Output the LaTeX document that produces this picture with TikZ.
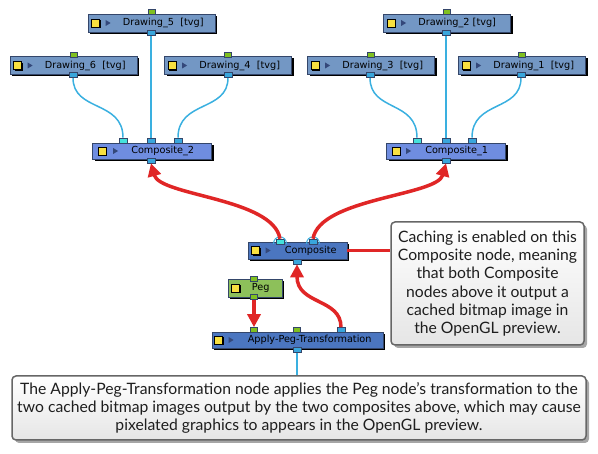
\documentclass[tikz,border=0pt]{standalone}
\usepackage{fontspec}
\setmainfont{Lato}
\newfontfamily\nodefont{DejaVu Sans}
\usetikzlibrary{shapes.geometric,shadows,arrows.meta}
\definecolor{nborder}{HTML}{34466A}
\definecolor{cdraw}{HTML}{7397C4}
\definecolor{ccompb}{HTML}{6F8DE0}
\definecolor{ccomp}{HTML}{4B76C0}
\definecolor{cpeg}{HTML}{8DC05A}
\definecolor{cyel}{HTML}{F8E040}
\definecolor{ctri}{HTML}{34487A}
\definecolor{pblue}{HTML}{39A6DC}
\definecolor{pcyan}{HTML}{44E2DC}
\definecolor{pgreen}{HTML}{80C020}
\definecolor{wire}{HTML}{3AB0E0}
\definecolor{cred}{HTML}{E02626}
\definecolor{ctext}{HTML}{1E1E1E}
\newcommand{\hnode}[8]{% name, style, center, text, text offset, square offset, triangle offset (0 = none)
  \node[#2] (#1) at (#3) {};
  \node[ysq] (#1-sq) at ([xshift=#6pt]#1.west) {};
  \ifnum#7>0 \fill[ctri] ([xshift=#7pt,yshift=3pt]#1.west) -- ++(5,3) -- ++(-5,3) -- cycle;\fi
  \node[lbl] (#1-t) at ([xshift=#5pt,yshift=#8pt]#1.west) {#4};
}
\begin{document}
\begin{tikzpicture}[x=1pt,y=-1pt,
  nbox/.style={draw=nborder, line width=0.8pt, inner sep=0, minimum height=17pt,
    drop shadow={shadow xshift=2pt,shadow yshift=-2pt,opacity=1,fill=black}},
  drawbox/.style={nbox, fill=cdraw, minimum width=127pt, minimum height=18pt},
  trapbox/.style={nbox, trapezium, trapezium left angle=75, trapezium right angle=75,
    trapezium stretches body, fill=ccompb, minimum width=119pt, minimum height=16pt},
  compbox/.style={nbox, fill=ccomp},
  pegbox/.style={nbox, fill=cpeg, minimum width=54pt, minimum height=18pt},
  lbl/.style={font=\nodefont\fontsize{9.7}{11}\selectfont, text=black, inner sep=0, anchor=west},
  ysq/.style={draw=black, fill=cyel, minimum size=8pt, inner sep=0, line width=0.6pt,
    drop shadow={shadow xshift=1.2pt,shadow yshift=-1.2pt,opacity=1,fill=black}},
  port/.style={draw=nborder, line width=0.6pt, inner sep=0, minimum width=8pt, minimum height=5pt},
  bport/.style={port, fill=pblue},
  cport/.style={port, fill=pcyan},
  gport/.style={port, fill=pgreen, minimum width=7pt},
  wireline/.style={draw=wire, line width=1.5pt},
  redline/.style={draw=cred, line width=3.5pt},
  redarrow/.style={redline, -{Triangle[length=13pt,width=13pt]}},
  callout/.style={draw=black!60, line width=1.5pt, rounded corners=4pt,
    top color=white, bottom color=black!10, align=center, text=ctext,
    font=\fontsize{15.7}{18.3}\selectfont, inner sep=0,
    drop shadow={shadow xshift=3pt,shadow yshift=-3pt,opacity=0.35,fill=black}},
  portarc/.style={draw=wire, line width=1pt}
]
\useasboundingbox (0,0) rectangle (598,454);

% ---------- Drawing nodes ----------
\hnode{d5}{drawbox}{151.5,23}{Drawing\_5\ \ [tvg]}{35}{8}{18}{0}
\hnode{d6}{drawbox}{73.5,65.5}{Drawing\_6\ \ [tvg]}{35}{8}{18}{0}
\hnode{d4}{drawbox}{228,65.5}{Drawing\_4\ \ [tvg]}{35}{8}{18}{0}
\hnode{d2}{drawbox}{447,23}{Drawing\_2 [tvg]}{35}{8}{18}{0}
\hnode{d3}{drawbox}{371,65.5}{Drawing\_3\ \ [tvg]}{35}{8}{18}{0}
\hnode{d1}{drawbox}{522,65.5}{Drawing\_1\ \ [tvg]}{35}{8}{18}{0}

% ---------- Composite_2 / Composite_1 ----------
\hnode{c2}{trapbox}{152,151}{Composite\_2}{39}{10}{21}{0}
\hnode{c1}{trapbox}{446,151}{Composite\_1}{39}{10}{20}{0}

% ---------- Composite, Peg, Apply ----------
\hnode{cp}{compbox, minimum width=99pt}{297.5,250.5}{Composite}{37}{8}{18}{0}
\hnode{pg}{pegbox}{255,288}{Peg}{24}{8}{0}{0}
\hnode{ap}{compbox, minimum width=171pt, minimum height=16pt}{297.5,340}{Apply-Peg-Transformation}{36}{7}{17}{0}

% ---------- ports ----------
\node[gport] (d5-in) at (151.5,12) {};
\node[bport] (d5-out) at (151,32.5) {};
\node[gport] (d6-in) at (73.5,55) {};
\node[bport] (d6-out) at (73,75) {};
\node[gport] (d4-in) at (228,55) {};
\node[bport] (d4-out) at (228,75) {};
\node[gport] (d2-in) at (447,12) {};
\node[bport] (d2-out) at (446,32.5) {};
\node[gport] (d3-in) at (370.5,55) {};
\node[bport] (d3-out) at (370,75) {};
\node[gport] (d1-in) at (521.5,55) {};
\node[bport] (d1-out) at (521,75) {};

\node[cport] (c2-i1) at (123,140.5) {};
\node[bport] (c2-i2) at (151,140.5) {};
\node[bport] (c2-i3) at (178,140.5) {};
\node[bport] (c2-out) at (151,160.5) {};
\node[cport] (c1-i1) at (417,140.5) {};
\node[bport] (c1-i2) at (446,140.5) {};
\node[bport] (c1-i3) at (472,140.5) {};
\node[bport] (c1-out) at (446,160.5) {};

\node[cport] (cp-i1) at (280,241.5) {};
\node[bport] (cp-i2) at (313,241.5) {};
\node[bport] (cp-out) at (297,261.5) {};

\node[gport] (pg-in) at (254,278.5) {};
\node[gport] (pg-out) at (254,297) {};

\node[gport] (ap-i1) at (254,330) {};
\node[gport] (ap-i2) at (297,330) {};
\node[bport] (ap-i3) at (341,330) {};
\node[bport] (ap-out) at (297,350) {};

% ---------- blue wires ----------
\draw[wireline] (d5-out) -- (c2-i2);
\draw[wireline] (d6-out.south) .. controls (73,112) and (123,100) .. (c2-i1.north);
\draw[wireline] (d4-out.south) .. controls (228,112) and (178,100) .. (c2-i3.north);
\draw[wireline] (d2-out) -- (c1-i2);
\draw[wireline] (d3-out.south) .. controls (370,112) and (417,100) .. (c1-i1.north);
\draw[wireline] (d1-out.south) .. controls (521,112) and (472,100) .. (c1-i3.north);

% ports on top of wires again
\foreach \p in {c2-i1,c1-i1,cp-i1}{\node[cport] at (\p) {};}
\foreach \p in {d5-out,d6-out,d4-out,d2-out,d3-out,d1-out,c2-i2,c2-i3,c1-i2,c1-i3}{\node[bport] at (\p) {};}

% arcs on Composite inputs
\draw[portarc] (273.5,244) .. controls (273.5,234.5) and (286.5,234.5) .. (286.5,244);
\draw[portarc] (306.5,244) .. controls (306.5,234.5) and (319.5,234.5) .. (319.5,244);

% ---------- callouts ----------
\node[callout, minimum width=193pt, minimum height=123pt] (n1) at (487.5,283.5)
  {Caching is enabled on this\\Composite node, meaning\\that both Composite\\nodes above it output a\\cached bitmap image in\\the OpenGL preview.};
\node[callout, minimum width=574pt, minimum height=64pt] (n2) at (299,408)
  {The Apply-Peg-Transformation node applies the Peg node's transformation to the\\two cached bitmap images output by the two composites above, which may cause\\pixelated graphics to appears in the OpenGL preview.};

\draw[wireline] (ap-out.south) -- (ap-out.south |- n2.north);
\draw[redline, line width=2.5pt] (cp.east) -- (cp.east -| n1.west);

% ---------- red arrows ----------
\draw[redarrow] (cp-i1.north) .. controls (273,198) and (160,196) .. (c2-out.south);
\draw[redarrow] (cp-i2.north) .. controls (320,198) and (437,196) .. (c1-out.south);
\draw[redarrow] (ap-i3.north) .. controls (341,298) and (297,305) .. (cp-out.south);
\draw[redarrow] (pg-out.south) -- (ap-i1.north);
\end{tikzpicture}
\end{document}
